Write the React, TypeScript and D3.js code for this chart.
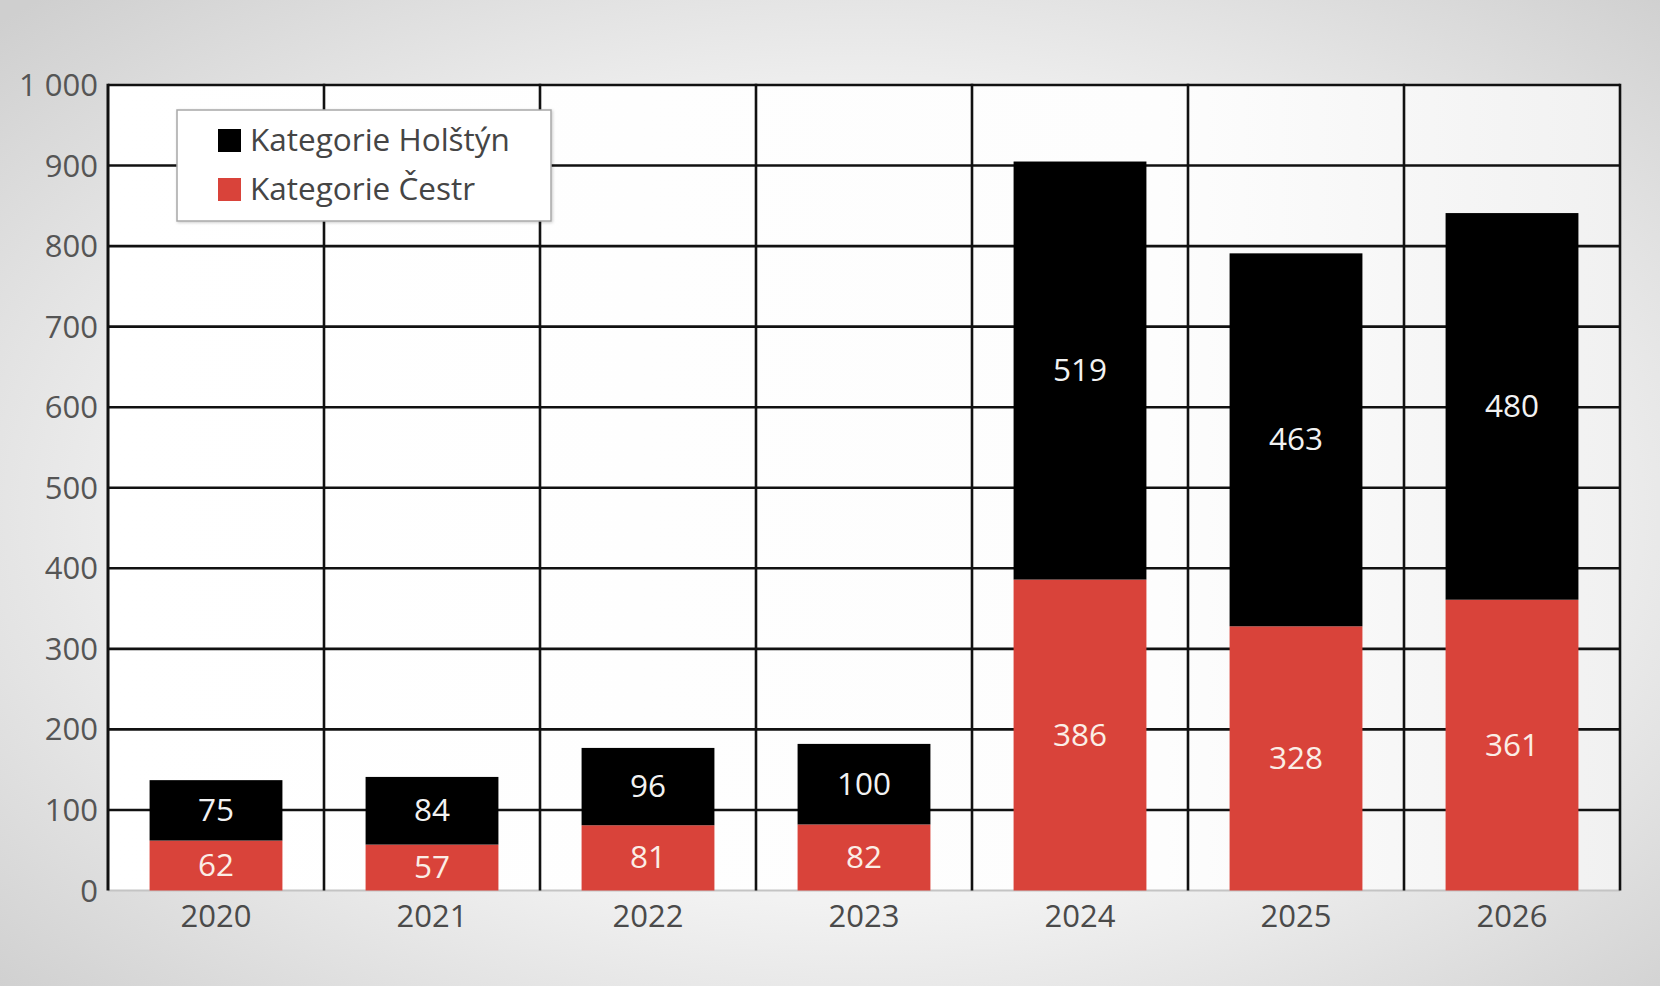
import { useEffect } from "react";
import { scaleBand, scaleLinear, stack } from "d3";

const years = ["2020", "2021", "2022", "2023", "2024", "2025", "2026"];
const cestr = [62, 57, 81, 82, 386, 328, 361];
const holstyn = [75, 84, 96, 100, 519, 463, 480];
const yTicks = [0, 100, 200, 300, 400, 500, 600, 700, 800, 900, 1000];
const seriesNames = ["Kategorie Holštýn", "Kategorie Čestr"];

const WIDTH = 1660;
const HEIGHT = 986;
const FONT = "'Open Sans', 'Noto Sans', sans-serif";
const RED = "#d9433a";

const margin = { top: 85, right: 40, bottom: 95, left: 108 };

function tickLabel(v: number) {
  return v >= 1000 ? `${Math.floor(v / 1000)} ${String(v % 1000).padStart(3, "0")}` : String(v);
}

export default function App() {
  useEffect(() => {
    document.body.style.margin = "0";
  }, []);

  const table = years.map((year, i) => ({ year, cestr: cestr[i], holstyn: holstyn[i] }));
  const layers = stack<{ year: string; cestr: number; holstyn: number }>().keys(["cestr", "holstyn"])(table);

  const x = scaleBand()
    .domain(years)
    .range([margin.left, WIDTH - margin.right])
    .paddingInner(0.385)
    .paddingOuter(0.1925);

  const y = scaleLinear().domain([0, 1000]).range([HEIGHT - margin.bottom - 0.5, margin.top]);

  const step = x.step();
  const gap = (step - x.bandwidth()) / 2;
  const columnEdges = years.map((yr) => (x(yr) ?? 0) - gap).concat([WIDTH - margin.right]);
  const fills: Record<string, string> = { cestr: RED, holstyn: "#000" };

  return (
    <svg width={WIDTH} height={HEIGHT} style={{ display: "block" }}>
      <defs>
        <radialGradient id="bg" cx="52%" cy="52%" r="72%">
          <stop offset="0%" stopColor="#fcfcfc" />
          <stop offset="55%" stopColor="#f2f2f2" />
          <stop offset="100%" stopColor="#cfcfcf" />
        </radialGradient>
        <linearGradient id="plotbg" x1="0" x2="1" y1="0" y2="0">
          <stop offset="0%" stopColor="#fff" />
          <stop offset="70%" stopColor="#fdfdfd" />
          <stop offset="100%" stopColor="#f1f1f1" />
        </linearGradient>
        <filter id="shadow" x="-5%" y="-5%" width="110%" height="120%">
          <feDropShadow dx="1" dy="1" stdDeviation="1.5" floodColor="#000" floodOpacity="0.2" />
        </filter>
      </defs>
      <rect width={WIDTH} height={HEIGHT} fill="url(#bg)" />
      <rect
        x={margin.left}
        y={margin.top}
        width={WIDTH - margin.left - margin.right}
        height={y(0) - margin.top}
        fill="url(#plotbg)"
      />

      {/* horizontal grid */}
      {yTicks.map((t) =>
        t === 0 ? null : (
          <line key={`h-${t}`} x1={margin.left} x2={WIDTH - margin.right} y1={y(t)} y2={y(t)} stroke="#111" strokeWidth={2.6} />
        )
      )}
      <line x1={margin.left} x2={WIDTH - margin.right} y1={y(0)} y2={y(0)} stroke="#c4c4c4" strokeWidth={2} />

      {/* vertical grid */}
      {columnEdges.map((cx, i) => (
        <line key={`v-${i}`} x1={cx} x2={cx} y1={margin.top - 1.3} y2={y(0)} stroke="#111" strokeWidth={i === 0 ? 3 : 2.6} />
      ))}

      {/* bars */}
      {layers.map((layer) =>
        layer.map((d, i) => (
          <rect
            key={`${layer.key}-${i}`}
            x={x(d.data.year)}
            y={y(d[1])}
            width={x.bandwidth()}
            height={y(d[0]) - y(d[1])}
            fill={fills[layer.key]}
          />
        ))
      )}
      {layers.map((layer) =>
        layer.map((d, i) => (
          <text
            key={`lbl-${layer.key}-${i}`}
            x={(x(d.data.year) ?? 0) + x.bandwidth() / 2}
            y={y((d[0] + d[1]) / 2) - 2}
            textAnchor="middle"
            dominantBaseline="central"
            fontFamily={FONT}
            fontSize={31.5}
            fill={layer.key === "cestr" ? "#fbeee6" : "#f2f2f2"}
          >
            {d[1] - d[0]}
          </text>
        ))
      )}

      {/* y tick labels */}
      {yTicks.map((t) => (
        <text
          key={`yt-${t}`}
          x={margin.left - 10}
          y={y(t) - 1}
          textAnchor="end"
          dominantBaseline="central"
          fontFamily={FONT}
          fontSize={31}
          fill="#555"
        >
          {tickLabel(t)}
        </text>
      ))}

      {/* x labels */}
      {years.map((yr) => (
        <text
          key={`xl-${yr}`}
          x={(x(yr) ?? 0) + x.bandwidth() / 2}
          y={y(0) + 36}
          textAnchor="middle"
          fontFamily={FONT}
          fontSize={31}
          fill="#4a4a4a"
        >
          {yr}
        </text>
      ))}

      {/* legend */}
      <g transform="translate(177,110)">
        <rect width={374} height={111} fill="#fff" stroke="#a8a8a8" strokeWidth={1.5} filter="url(#shadow)" />
        {seriesNames.map((name, i) => (
          <g key={name} transform={`translate(41,${19 + i * 49})`}>
            <rect width={23} height={23} fill={i === 0 ? "#000" : RED} />
            <text x={32} y={9.5} dominantBaseline="central" fontFamily={FONT} fontSize={31.5} fill="#454545">
              {name}
            </text>
          </g>
        ))}
      </g>
    </svg>
  );
}
